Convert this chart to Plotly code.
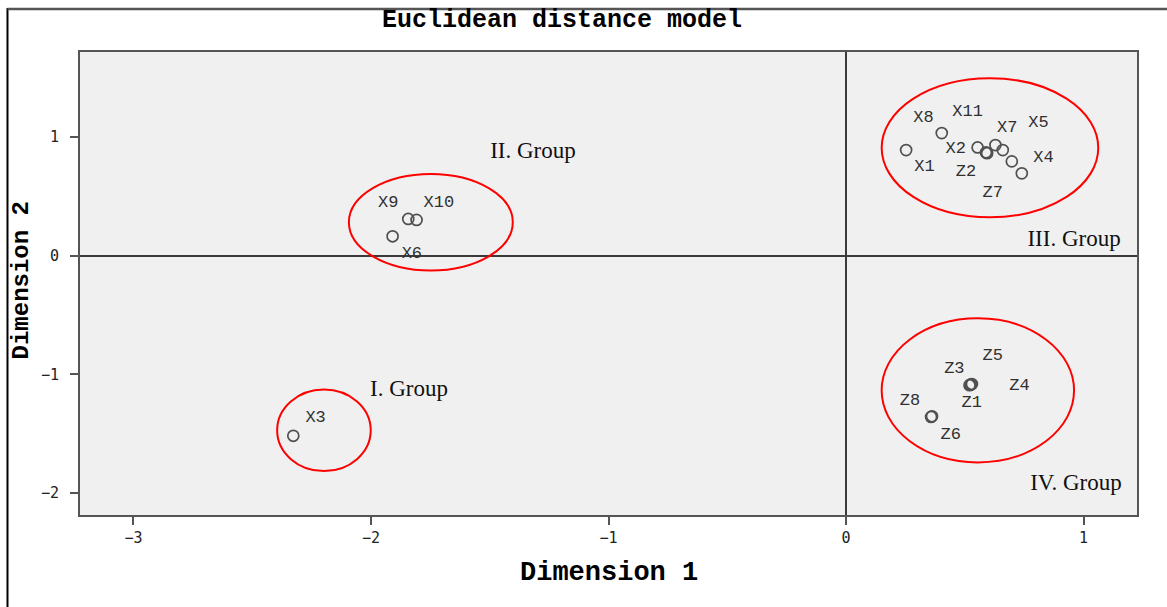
import plotly.graph_objects as go

# Stimulus coordinates (Dimension 1, Dimension 2)
point_names = ["X1", "X8", "X2", "Z2", "Z7", "X11", "X7", "X5", "X4",
               "X9", "X10", "X6", "X3",
               "Z1", "Z3", "Z4", "Z5", "Z6", "Z8"]
dim1 = [0.253, 0.403, 0.554, 0.589, 0.594, 0.629, 0.660, 0.698, 0.740,
        -1.843, -1.808, -1.909, -2.327,
        0.525, 0.520, 0.530, 0.525, 0.358, 0.362]
dim2 = [0.888, 1.031, 0.910, 0.868, 0.862, 0.930, 0.888, 0.793, 0.692,
        0.308, 0.300, 0.162, -1.518,
        -1.087, -1.092, -1.082, -1.087, -1.359, -1.354]

# Label placements (as produced by the original software)
label_text = ["X8", "X11", "X7", "X5", "X2", "X1", "Z2", "Z7", "X4",
              "X9", "X10", "X6", "X3",
              "Z5", "Z3", "Z4", "Z8", "Z1", "Z6"]
label_x = [0.326, 0.512, 0.679, 0.810, 0.462, 0.330, 0.505, 0.618, 0.831,
           -1.927, -1.714, -1.828, -2.233,
           0.618, 0.456, 0.730, 0.269, 0.529, 0.441]
label_y = [1.157, 1.212, 1.078, 1.120, 0.896, 0.748, 0.709, 0.532, 0.826,
           0.443, 0.448, 0.019, -1.367,
           -0.846, -0.952, -1.098, -1.227, -1.241, -1.507]

# Group annotations
group_text = ["I. Group", "II. Group", "III. Group", "IV. Group"]
group_x = [-1.84, -1.318, 0.96, 0.968]
group_y = [-1.134, 0.874, 0.126, -1.924]

# Group ellipses (x0, x1, y0, y1)
ell_x0 = [-2.395, -2.093, 0.150, 0.150]
ell_x1 = [-2.001, -1.403, 1.062, 0.960]
ell_y0 = [-1.815, -0.126, 0.322, -1.742]
ell_y1 = [-1.129, 0.687, 1.493, -0.529]

x_ticks = [-3, -2, -1, 0, 1]
y_ticks = [-2, -1, 0, 1]

fig = go.Figure()

fig.add_trace(go.Scatter(
    x=dim1, y=dim2, mode="markers", text=point_names,
    marker=dict(symbol="circle-open", size=11,
                color="#505050", line=dict(width=1.7)),
    hoverinfo="text", showlegend=False))

fig.add_trace(go.Scatter(
    x=label_x, y=label_y, mode="text", text=label_text,
    textfont=dict(family="Liberation Mono", size=17, color="#303030"),
    hoverinfo="skip", showlegend=False))

fig.add_trace(go.Scatter(
    x=group_x, y=group_y, mode="text", text=group_text,
    textfont=dict(family="Liberation Serif", size=23, color="#111111"),
    hoverinfo="skip", showlegend=False))

shapes = []
for a, b, c, d in zip(ell_x0, ell_x1, ell_y0, ell_y1):
    shapes.append(dict(type="circle", xref="x", yref="y",
                       x0=a, x1=b, y0=c, y1=d,
                       line=dict(color="#ff0000", width=2)))
# outer frame lines (left and top)
shapes.append(dict(type="line", xref="paper", yref="paper",
                   x0=-0.0686, x1=-0.0686, y0=-0.25, y1=1.095,
                   line=dict(color="#000000", width=2)))
shapes.append(dict(type="line", xref="paper", yref="paper",
                   x0=-0.0686, x1=1.05, y0=1.093, y1=1.093,
                   line=dict(color="#555555", width=2.5)))

fig.update_layout(
    width=1167, height=607,
    margin=dict(l=80, r=30, t=52, b=92),
    paper_bgcolor="white", plot_bgcolor="#f0f0f0",
    shapes=shapes,
    annotations=[
        dict(text="<b>Euclidean distance model</b>", xref="paper", yref="paper",
             x=0.456, y=1.069, xanchor="center", yanchor="middle",
             showarrow=False,
             font=dict(family="Liberation Mono", size=25, color="#000")),
        dict(text="<b>Dimension 1</b>", xref="paper", yref="paper",
             x=0.5, y=-0.125, xanchor="center", yanchor="middle",
             showarrow=False,
             font=dict(family="Liberation Mono", size=27, color="#000")),
        dict(text="<b>Dimension 2</b>", xref="paper", yref="paper",
             x=-0.0549, y=0.5065, xanchor="center", yanchor="middle",
             showarrow=False, textangle=-90,
             font=dict(family="Liberation Mono", size=24, color="#000")),
    ],
    xaxis=dict(range=[-3.225, 1.225], tickvals=x_ticks, ticks="outside",
               ticklen=8, tickwidth=2, tickcolor="#555",
               showgrid=False, zeroline=True, zerolinecolor="#3a3a3a",
               zerolinewidth=2, showline=True, mirror=True,
               linecolor="#555", linewidth=2,
               tickfont=dict(family="DejaVu Sans Mono", size=15, color="#222")),
    yaxis=dict(range=[-2.185, 1.714], tickvals=y_ticks, ticks="outside",
               ticklen=8, tickwidth=2, tickcolor="#555",
               ticklabelstandoff=8,
               showgrid=False, zeroline=True, zerolinecolor="#3a3a3a",
               zerolinewidth=2, showline=True, mirror=True,
               linecolor="#555", linewidth=2,
               tickfont=dict(family="DejaVu Sans Mono", size=15, color="#222")),
)

fig.write_html("out.html", config={"displayModeBar": False},
               post_script="document.body.style.margin='0px';")
